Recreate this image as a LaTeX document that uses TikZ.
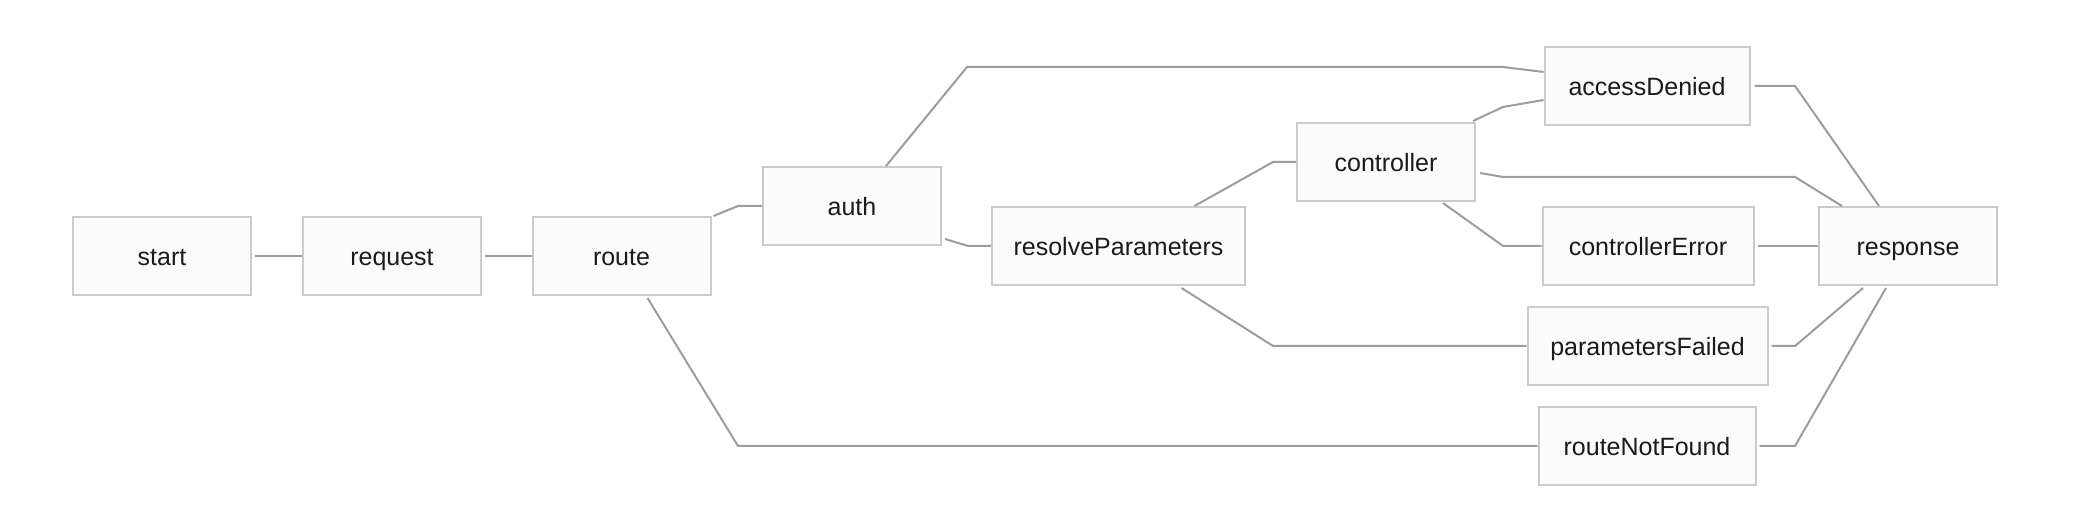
\documentclass[tikz,border=0pt]{standalone}
\usepackage{fontspec}
\setmainfont{Liberation Sans}
\usetikzlibrary{calc}
\definecolor{boxfill}{HTML}{FBFBFB}
\definecolor{boxline}{HTML}{CBCBCB}
\definecolor{edgecol}{HTML}{9A9DA2}
\definecolor{txt}{HTML}{1A1A1A}
\tikzset{
  flowbox/.style={draw=boxline, fill=boxfill, line width=1pt, minimum height=39pt,
    inner sep=0pt, text=txt, text height=10.4pt, text depth=1.3pt,
    font=\fontsize{12.5}{15}\selectfont},
  wire/.style={draw=edgecol, line width=1pt, line join=miter}
}
\begin{document}
\begin{tikzpicture}[x=0.5pt, y=-0.5pt]
\useasboundingbox (0,0) rectangle (2088,522);
% nodes
\node[flowbox, minimum width=89pt]    (start)   at (162,256)   {start};
\node[flowbox, minimum width=89pt]    (request) at (392,256)   {request};
\node[flowbox, minimum width=89pt]    (route)   at (621.5,256) {route};
\node[flowbox, minimum width=89pt]    (auth)    at (852,206)   {auth};
\node[flowbox, minimum width=126.5pt] (resolve) at (1118.5,246) {resolveParameters};
\node[flowbox, minimum width=89pt]    (controller) at (1386,162) {controller};
\node[flowbox, minimum width=102.5pt] (denied)  at (1647,86)   {accessDenied};
\node[flowbox, minimum width=105.5pt] (cerror)  at (1648,246)  {controllerError};
\node[flowbox, minimum width=89pt]    (response) at (1908,246) {response};
\node[flowbox, minimum width=120pt]   (pfailed) at (1647.5,346) {parametersFailed};
\node[flowbox, minimum width=108.5pt] (notfound) at (1647,446) {routeNotFound};
% connectors
\draw[wire] ($(start.east)+(3,0)$) -- (request.west);
\draw[wire] ($(request.east)+(3,0)$) -- (route.west);
\draw[wire] ($(route.north east)+(2,0)$) -- (738,206) -- (auth.west);
\draw[wire] ($(route.south)+(26,2)$) -- (738,446) -- (notfound.west);
\draw[wire] ($(auth.south east)+(3,-7)$) -- (968,246) -- (resolve.west);
\draw[wire] ($(auth.north)+(34,0)$) -- (967,67) -- (1503,67) -- ($(denied.west)+(0,-14)$);
\draw[wire] ($(resolve.north)+(76,0)$) -- (1273,162) -- (controller.west);
\draw[wire] ($(resolve.south)+(63,2)$) -- (1273,346) -- (pfailed.west);
\draw[wire] ($(controller.north east)+(-3,-1)$) -- (1503,107) -- ($(denied.west)+(0,14)$);
\draw[wire] ($(controller.east)+(4,11)$) -- (1503,177) -- (1795,177) -- ($(response.north)+(-66,0)$);
\draw[wire] ($(controller.south)+(57,1)$) -- (1503,246) -- (cerror.west);
\draw[wire] ($(denied.east)+(4,0)$) -- (1795,86) -- ($(response.north)+(-29,0)$);
\draw[wire] ($(cerror.east)+(3,0)$) -- (response.west);
\draw[wire] ($(pfailed.east)+(3,0)$) -- (1795,346) -- ($(response.south)+(-45,2)$);
\draw[wire] ($(notfound.east)+(3,0)$) -- (1795,446) -- ($(response.south)+(-22,2)$);
\end{tikzpicture}
\end{document}
